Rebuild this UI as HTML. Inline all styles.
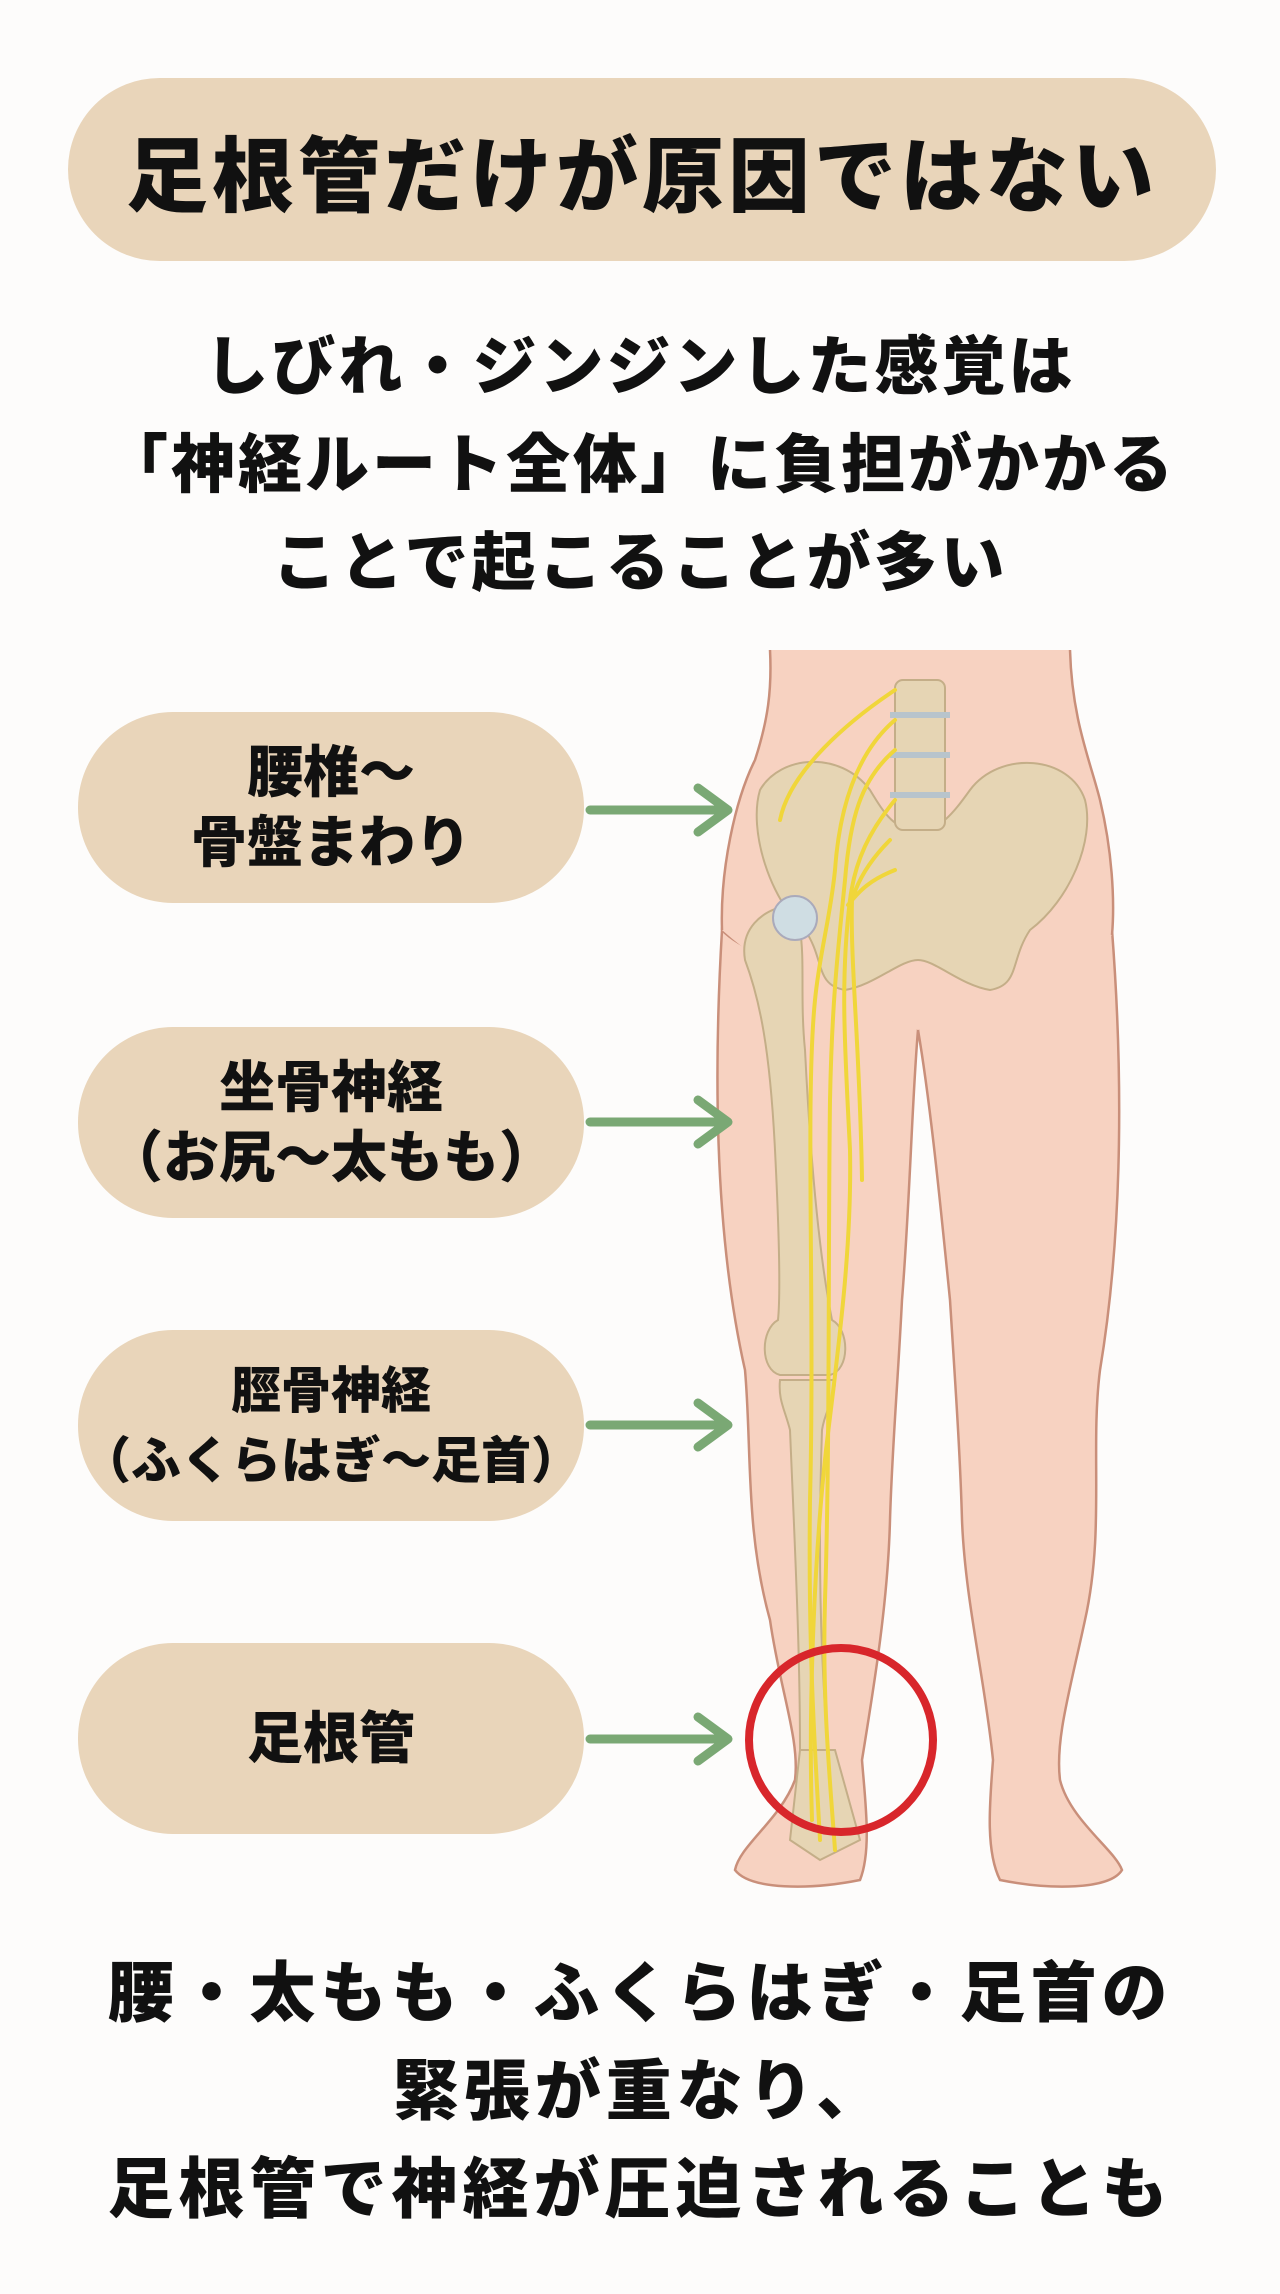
<!DOCTYPE html>
<html><head><meta charset="utf-8"><style>
html,body{margin:0;padding:0;background:#fdfcfb;}
body{width:1280px;height:2294px;position:relative;overflow:hidden;font-family:"Liberation Sans","Noto Sans CJK JP",sans-serif;font-weight:900;color:#111;}
.pill{position:absolute;background:#e9d5ba;border-radius:95px;display:flex;align-items:center;justify-content:center;text-align:center;}
.t{position:absolute;left:0;width:1280px;text-align:center;white-space:nowrap;}
.lab{font-size:56px;line-height:70px;}
</style></head><body>
<div class="pill" style="left:68px;top:78px;width:1148px;height:183px;font-size:82px;letter-spacing:4px;">足根管だけが原因ではない</div>
<div class="t" style="top:318px;font-size:64px;line-height:98px;letter-spacing:3px;">しびれ・ジンジンした感覚は<br>「神経ルート全体」に負担がかかる<br>ことで起こることが多い</div>

<svg style="position:absolute;left:0;top:0" width="1280" height="2294" viewBox="0 0 1280 2294">
<g stroke="#c98f7a" stroke-width="2.5" fill="#f7d2c1">
<path d="M918 1030 L925 1000 C1000 980 1090 960 1112 930 C1125 1100 1120 1250 1100 1370 C1090 1450 1105 1530 1085 1620 C1070 1690 1055 1740 1060 1780 C1070 1820 1115 1850 1122 1870 C1110 1890 1050 1890 1000 1880 C985 1850 990 1800 993 1760 C985 1680 965 1600 962 1520 C960 1450 955 1380 950 1300 C940 1200 930 1100 918 1030Z"/>
<path d="M918 1030 L910 1000 C840 980 750 960 722 930 C712 1100 718 1250 745 1370 C752 1450 745 1530 770 1620 C780 1690 800 1740 795 1780 C780 1820 740 1845 735 1870 C750 1890 810 1890 860 1880 C872 1850 865 1800 862 1760 C875 1680 888 1600 890 1520 C892 1450 898 1380 902 1300 C910 1200 912 1100 918 1030Z"/>
<path d="M770 650 L1070 650 C1072 720 1090 760 1100 800 C1112 850 1115 900 1112 935 C1050 990 980 1010 918 1030 C860 1010 790 990 722 930 C720 870 735 800 755 760 C768 720 772 690 770 650Z" stroke="none"/>
<path d="M770 650 C772 690 768 720 755 760 C735 800 720 870 722 930 M1070 650 C1072 720 1090 760 1100 800 C1112 850 1115 900 1112 935" fill="none"/>
</g>
<g fill="#e6d5b4" stroke="#c4ae88" stroke-width="2">
<path d="M760 790 C780 755 840 750 870 790 C885 815 895 830 918 830 C940 830 952 815 970 790 C1000 750 1070 755 1085 800 C1095 840 1070 900 1030 930 C1010 960 1020 985 990 990 C960 985 935 960 918 960 C900 960 875 985 845 990 C815 985 825 960 805 930 C770 900 748 830 760 790Z"/>
<rect x="895" y="680" width="50" height="150" rx="8"/>
<line x1="890" y1="715" x2="950" y2="715" stroke="#b8c4cc" stroke-width="6"/>
<line x1="890" y1="755" x2="950" y2="755" stroke="#b8c4cc" stroke-width="6"/>
<line x1="890" y1="795" x2="950" y2="795" stroke="#b8c4cc" stroke-width="6"/>
<path d="M790 905 C760 910 740 930 745 960 C760 1000 770 1050 775 1150 C780 1250 780 1300 778 1320 C760 1330 760 1370 780 1375 L830 1375 C850 1370 850 1330 832 1320 C818 1250 810 1150 805 1050 C800 1000 805 960 800 930Z"/>
<circle cx="795" cy="918" r="22" fill="#cfdde3" stroke="#aab"/>
<path d="M780 1380 L835 1380 C835 1400 825 1410 822 1430 C818 1550 820 1650 828 1750 L800 1750 C800 1650 795 1550 790 1430 C785 1410 778 1400 780 1380Z"/>
<path d="M800 1750 L835 1750 L860 1840 L820 1860 L790 1840Z"/>
</g>
<g fill="none" stroke="#f0d63a" stroke-width="4" stroke-linecap="round">
<path d="M895 690 C850 720 790 770 780 820"/>
<path d="M895 720 C860 750 840 800 835 870 C830 920 820 950 815 1000 C805 1100 815 1300 810 1500 C808 1650 815 1750 820 1840"/>
<path d="M895 750 C860 780 850 820 845 880 C838 950 832 1000 830 1100 C828 1250 830 1450 825 1600 C822 1700 830 1780 835 1850"/>
<path d="M895 800 C870 830 855 860 850 900 C840 980 845 1050 850 1150 C852 1250 838 1350 826 1450 C815 1550 808 1700 812 1820"/>
<path d="M890 840 C870 860 858 880 852 900 C850 960 860 1050 862 1180"/>
<path d="M895 870 C870 880 860 890 848 905"/>
</g>
<circle cx="841" cy="1740" r="92" fill="none" stroke="#d8262b" stroke-width="8"/>
<g fill="none" stroke="#7aa874" stroke-width="9" stroke-linecap="round" stroke-linejoin="round">
<path d="M590 810 L725 810 M698 788 L728 810 L698 832"/>
<path d="M590 1122 L725 1122 M698 1100 L728 1122 L698 1144"/>
<path d="M590 1425 L725 1425 M698 1403 L728 1425 L698 1447"/>
<path d="M590 1739 L725 1739 M698 1717 L728 1739 L698 1761"/>
</g>
</svg>

<div class="pill lab" style="left:78px;top:712px;width:506px;height:191px;">腰椎〜<br>骨盤まわり</div>
<div class="pill lab" style="left:78px;top:1027px;width:506px;height:191px;">坐骨神経<br>（お尻〜太もも）</div>
<div class="pill lab" style="left:78px;top:1330px;width:506px;height:191px;font-size:50px;">脛骨神経<br>（ふくらはぎ〜足首）</div>
<div class="pill lab" style="left:78px;top:1643px;width:506px;height:191px;">足根管</div>

<div class="t" style="top:1944px;font-size:66px;line-height:98px;letter-spacing:5px;">腰・太もも・ふくらはぎ・足首の<br>緊張が重なり、<br>足根管で神経が圧迫されることも</div>
</body></html>
